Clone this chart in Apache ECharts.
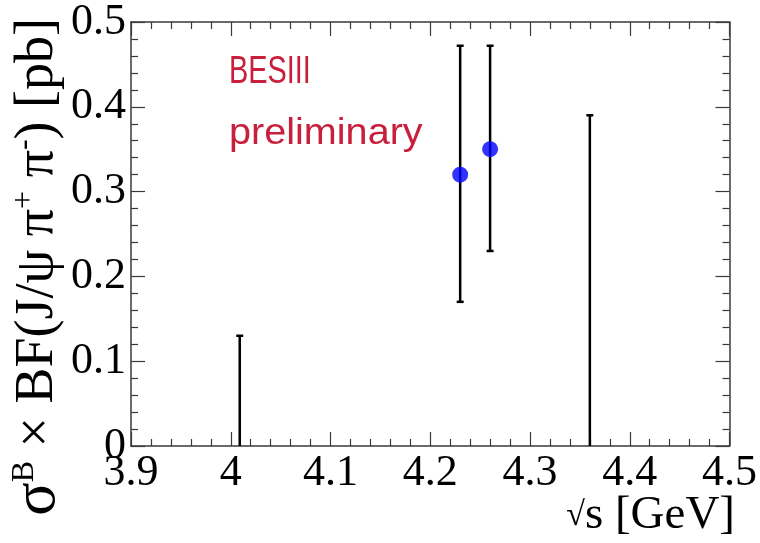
<!DOCTYPE html>
<html>
<head>
<meta charset="utf-8">
<script src="https://cdn.jsdelivr.net/npm/echarts@6/dist/echarts.min.js"></script>
<style>html,body{margin:0;padding:0;background:#fff;}#c{width:760px;height:543px;}</style>
</head>
<body>
<div id="c"></div>
<script>
// ---- data ----
const energies = [4.009, 4.23, 4.26, 4.36];          // sqrt(s) [GeV]
const centralValues = [null, 0.32, 0.35, null];      // measured points (null = upper limit only)
const errLow = [0, 0.17, 0.23, 0];                   // lower end of error bar
const errHigh = [0.13, 0.472, 0.472, 0.39];          // upper end of error bar
const xTicks = [3.9, 4.0, 4.1, 4.2, 4.3, 4.4, 4.5];
const yTicks = [0, 0.1, 0.2, 0.3, 0.4, 0.5];

const barData = energies.map((e, i) => [e, errLow[i], errHigh[i]]);
const pointData = energies.map((e, i) => [e, centralValues[i]]).filter(d => d[1] !== null);

const frameColor = '#3a3a3a';
const serif = '"Liberation Serif", "DejaVu Serif", serif';

function axisBase(showLabels, pos) {
  return {
    type: 'value',
    position: pos,
    axisLine: { show: true, onZero: false, lineStyle: { color: frameColor, width: 1.5 } },
    axisTick: { show: true, inside: true, length: 14, lineStyle: { color: frameColor, width: 1.2 } },
    minorTick: { show: true, splitNumber: 5, length: 7, lineStyle: { color: frameColor, width: 1.2 } },
    splitLine: { show: false },
    minorSplitLine: { show: false },
    axisLabel: { show: showLabels, fontFamily: serif, fontSize: 44, color: '#000' }
  };
}

const xBottom = Object.assign(axisBase(true, 'bottom'), { min: xTicks[0], max: xTicks[xTicks.length - 1], interval: 0.1 });
xBottom.axisLabel.margin = 5;
xBottom.axisLabel.formatter = v => String(+v.toFixed(2));
const xTop = Object.assign(axisBase(false, 'top'), { min: xTicks[0], max: xTicks[xTicks.length - 1], interval: 0.1 });
const yLeft = Object.assign(axisBase(true, 'left'), { min: yTicks[0], max: yTicks[yTicks.length - 1], interval: 0.1 });
yLeft.axisLabel.margin = 5;
yLeft.axisLabel.formatter = v => String(+v.toFixed(2));
const yRight = Object.assign(axisBase(false, 'right'), { min: yTicks[0], max: yTicks[yTicks.length - 1], interval: 0.1 });

const chart = echarts.init(document.getElementById('c'), null, { renderer: 'canvas' });
chart.setOption({
  backgroundColor: '#fff',
  animation: false,
  grid: { left: 131, right: 28, top: 21, bottom: 97, containLabel: false },
  xAxis: [xBottom, xTop],
  yAxis: [yLeft, yRight],
  series: [
    {
      type: 'custom',
      xAxisIndex: 0, yAxisIndex: 0,
      data: barData,
      z: 3,
      renderItem: function (params, api) {
        const x = api.value(0), lo = api.value(1), hi = api.value(2);
        const pLo = api.coord([x, lo]);
        const pHi = api.coord([x, hi]);
        const cap = 3.5;
        const st = { stroke: '#000', lineWidth: 2.5 };
        const children = [
          { type: 'line', shape: { x1: pLo[0], y1: pLo[1], x2: pHi[0], y2: pHi[1] }, style: st },
          { type: 'line', shape: { x1: pHi[0] - cap, y1: pHi[1], x2: pHi[0] + cap, y2: pHi[1] }, style: st }
        ];
        if (lo > 0) {
          children.push({ type: 'line', shape: { x1: pLo[0] - cap, y1: pLo[1], x2: pLo[0] + cap, y2: pLo[1] }, style: st });
        }
        return { type: 'group', children: children };
      }
    },
    {
      type: 'scatter',
      xAxisIndex: 0, yAxisIndex: 0,
      data: pointData,
      symbol: 'circle',
      symbolSize: 16,
      z: 4,
      itemStyle: { color: '#0000ff' }
    }
  ],
  graphic: [
    { type: 'text', x: 229, y: 54, scaleX: 0.76, style: { text: 'BESIII', fill: '#c8203c', font: '38px "Liberation Sans", Arial, sans-serif' } },
    { type: 'text', x: 229, y: 116, scaleX: 1.1, style: { text: 'preliminary', fill: '#c8203c', font: '36px "Liberation Sans", Arial, sans-serif' } },
    {
      type: 'text', x: 735, y: 516,
      style: {
        text: '{r|√}{m|s [GeV]}', textAlign: 'right', textVerticalAlign: 'middle', fill: '#000',
        rich: {
          r: { fontFamily: serif, fontSize: 34, fill: '#000' },
          m: { fontFamily: serif, fontSize: 47, fill: '#000' }
        }
      }
    },
    {
      type: 'text', x: 38, y: 18, rotation: Math.PI / 2,
      style: {
        text: '{g|σ}{s|B}{m| × BF(J/ψ π}{s|+}{m| π}{s|-}{m|) [pb]}',
        textAlign: 'right', textVerticalAlign: 'middle', fill: '#000',
        rich: {
          g: { fontFamily: serif, fontSize: 62, fill: '#000' },
          m: { fontFamily: serif, fontSize: 54, fill: '#000' },
          s: { fontFamily: serif, fontSize: 32, fill: '#000', padding: [0, 0, 26, 0] }
        }
      }
    }
  ]
});
</script>
</body>
</html>
